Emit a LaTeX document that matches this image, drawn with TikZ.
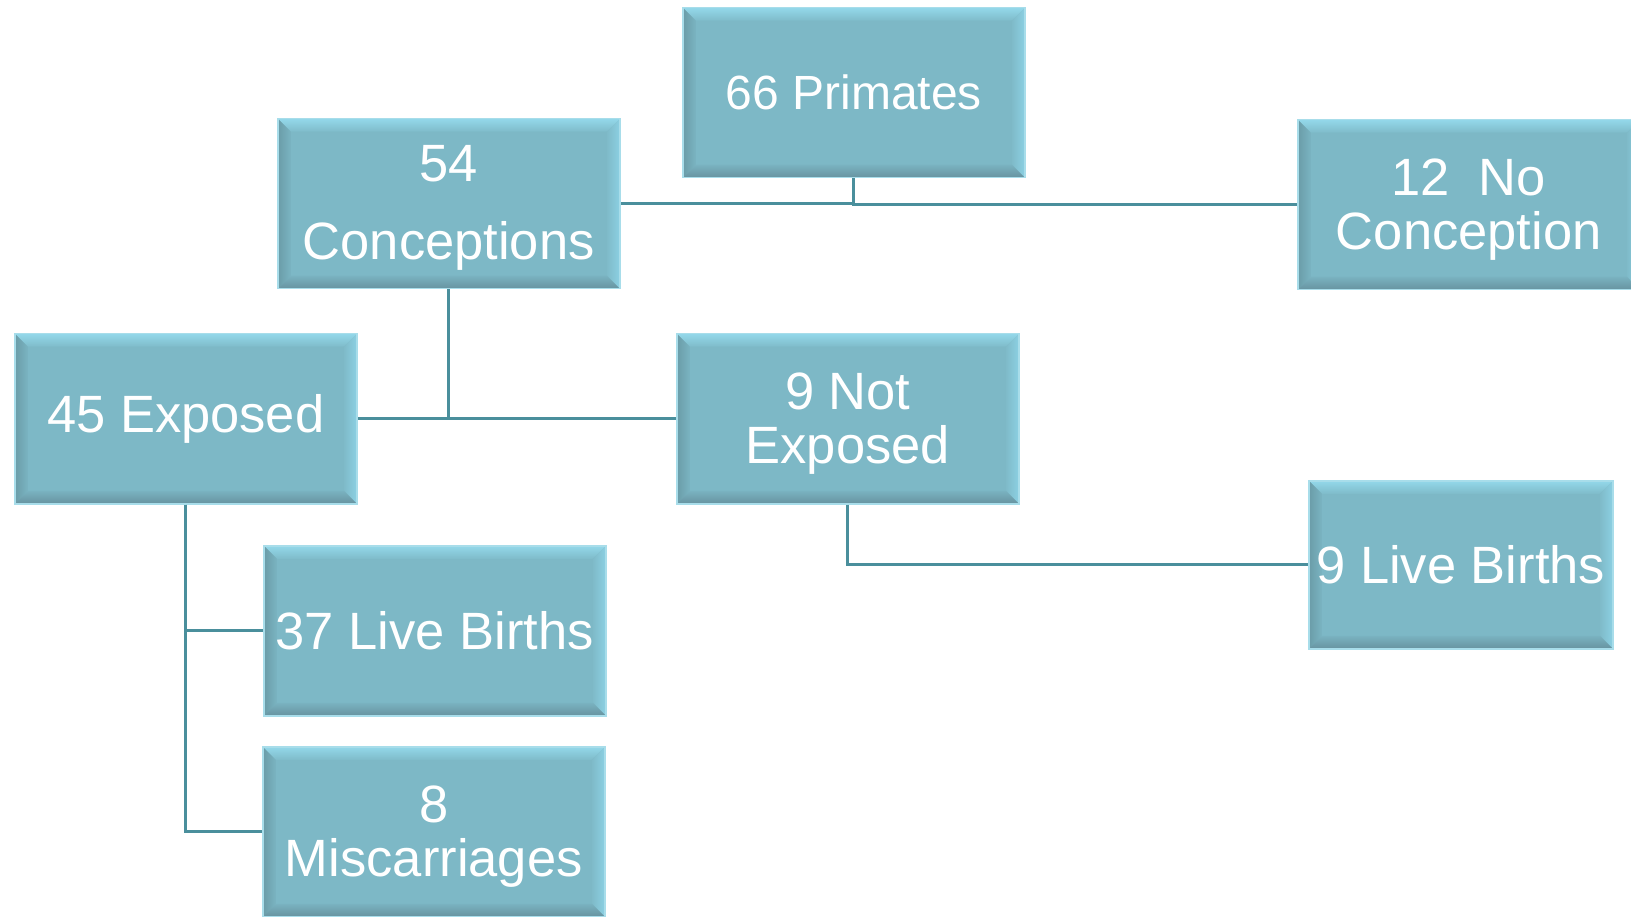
\documentclass[tikz,border=0pt]{standalone}
\usepackage{fontspec}
\setmainfont{Liberation Sans}
\usetikzlibrary{calc}
\definecolor{boxfill}{HTML}{7DB8C6}
\definecolor{bevtop}{HTML}{93D8EA}
\definecolor{bevright}{HTML}{8CD0E2}
\definecolor{bevleft}{HTML}{6A9CA8}
\definecolor{bevbot}{HTML}{6793A0}
\definecolor{boxedge}{HTML}{A8DDEA}
\definecolor{linkcol}{HTML}{4A8F9C}
\newcommand{\firstup}[1]{\rule{0pt}{#1}}
\tikzset{
  bevelbox/.style={rectangle, fill=boxfill, draw=boxedge, line width=1.5pt,
    text=white, align=center, inner sep=0pt, anchor=north west,
    minimum width=342pt, minimum height=170pt,
    font=\fontsize{52.5}{54}\selectfont,
    path picture={
      \coordinate (pa) at (path picture bounding box.north west);
      \coordinate (pb) at (path picture bounding box.south east);
      \shade[top color=bevtop, bottom color=boxfill!90!bevtop]
        (pa) -- (pa -| pb) -- ($(pa -| pb)+(-13pt,-13pt)$) -- ($(pa)+(13pt,-13pt)$) -- cycle;
      \shade[left color=boxfill!90!bevright, right color=bevright]
        (pa -| pb) -- (pb) -- ($(pb)+(-13pt,13pt)$) -- ($(pa -| pb)+(-13pt,-13pt)$) -- cycle;
      \shade[top color=boxfill!85!bevbot, bottom color=bevbot]
        (pb) -- (pa |- pb) -- ($(pa |- pb)+(13pt,13pt)$) -- ($(pb)+(-13pt,13pt)$) -- cycle;
      \shade[left color=bevleft, right color=boxfill!85!bevleft]
        (pa |- pb) -- (pa) -- ($(pa)+(13pt,-13pt)$) -- ($(pa |- pb)+(13pt,13pt)$) -- cycle;
    }},
  link/.style={draw=linkcol, line width=2.6pt}
}
\begin{document}
\begin{tikzpicture}[x=1pt,y=-1pt]
\useasboundingbox (0,0) rectangle (1631,917);
\node[bevelbox, font=\fontsize{48}{54}\selectfont] (prim) at (682,7) {66 Primates};
\node[bevelbox] (conc) at (277,118) {\firstup{44pt}54\\[24pt]Conceptions};
\node[bevelbox] (noc) at (1297,119) {\firstup{46pt}12\ \ No\\Conception};
\node[bevelbox] (exp) at (14,333) {45 Exposed};
\node[bevelbox] (nexp) at (676,333) {\firstup{46pt}9 Not\\Exposed};
\node[bevelbox, minimum width=304pt, minimum height=168pt] (lb9) at (1308,480) {9 Live Births};
\node[bevelbox] (lb37) at (263,545) {37 Live Births};
\node[bevelbox] (mis) at (262,746) {\firstup{46pt}8\\Miscarriages};
\draw[link] (prim.south) |- (conc.east);
\draw[link] (prim.south) |- (noc.west);
\draw[link] (conc.south) |- (exp.east);
\draw[link] (conc.south) |- (nexp.west);
\draw[link] (exp.south) |- (lb37.west);
\draw[link] (exp.south) |- (mis.west);
\draw[link] (nexp.south) |- (lb9.west);
\end{tikzpicture}
\end{document}
